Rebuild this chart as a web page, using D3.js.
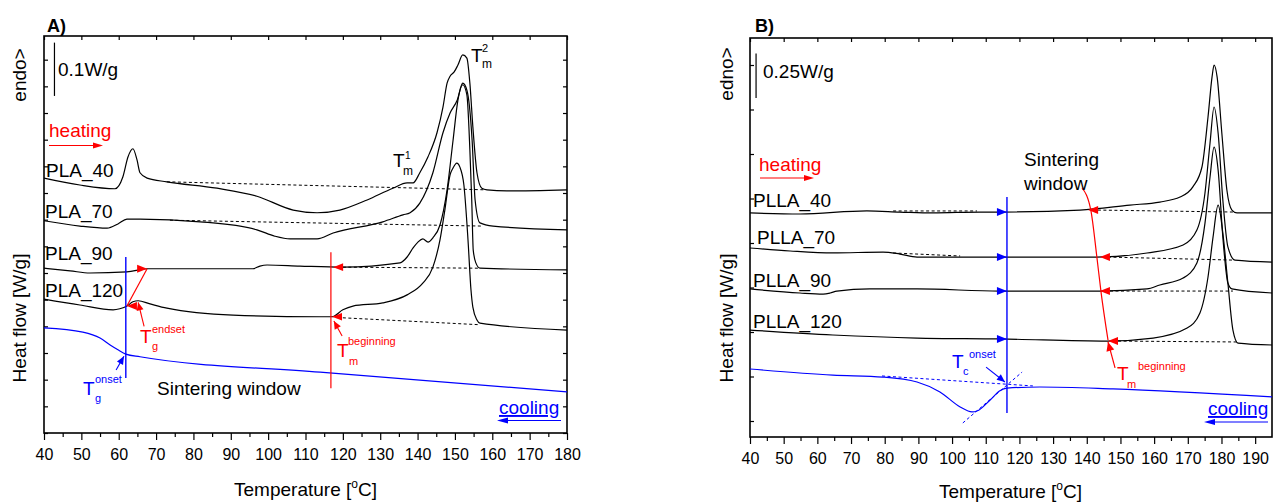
<!DOCTYPE html>
<html><head><meta charset="utf-8">
<script src="https://cdn.jsdelivr.net/npm/d3@7/dist/d3.min.js"></script>
<style>
body{margin:0;background:#fff}
svg{display:block}
text{font-family:"Liberation Sans",Arial,Helvetica,sans-serif}
</style>
</head><body>
<svg id="c" width="1273" height="502"></svg>
<script>
// ================= DATA (temperature °C, heat flow W/g with vertical offsets) =================
// ---- Panel A ----
const tempMajorA = [40,50,60,70,80,90,100,110,120,130,140,150,160,170,180];
const tempMinorA = [45,55,65,75,85,95,105,115,125,135,145,155,165,175];
const flowTicksA = [0,0.05,0.1,0.15,0.2,0.25,0.3,0.35,0.4,0.45,0.5,0.55,0.6,0.65,0.7];
const namesA = ["PLA_40","PLA_70","PLA_90","PLA_120"];
const pla40 = [[40,0.478],[49.6,0.465],[59.0,0.458],[61.1,0.480],[62.5,0.518],[63.8,0.533],[64.9,0.512],[65.7,0.488],[67.6,0.478],[72.9,0.471],[86.3,0.459],[97.0,0.444],[106.7,0.418],[113.1,0.413],[119.2,0.418],[126.5,0.437],[133.4,0.459],[137.2,0.469],[138.8,0.469],[140.6,0.488],[142.8,0.518],[145.2,0.563],[146.8,0.611],[147.9,0.656],[148.7,0.669],[149.8,0.677],[150.8,0.690],[152.1,0.709],[153.2,0.703],[154.0,0.656],[154.8,0.574],[155.9,0.488],[157.2,0.459],[158.6,0.456],[163.9,0.454],[180,0.456]];
const pla70 = [[40,0.398],[49.6,0.388],[56.9,0.384],[59.8,0.392],[62.2,0.401],[65.7,0.401],[81.8,0.396],[97.0,0.381],[101.8,0.369],[105.9,0.364],[113.1,0.364],[117.4,0.375],[130.7,0.396],[136.1,0.409],[138.0,0.413],[140.6,0.431],[144.1,0.488],[146.8,0.563],[148.7,0.600],[150.6,0.624],[152.1,0.656],[153.2,0.643],[154.6,0.549],[155.4,0.437],[156.7,0.394],[160.2,0.388],[180,0.381]];
const pla90 = [[40,0.309],[47.0,0.304],[52.3,0.300],[62.2,0.302],[67.6,0.308],[81.8,0.308],[95.9,0.308],[97.8,0.313],[99.7,0.315],[108.5,0.313],[120.0,0.311],[135.3,0.319],[137.2,0.330],[138.8,0.347],[140.1,0.358],[141.4,0.364],[142.8,0.358],[144.1,0.366],[146.0,0.390],[147.9,0.456],[149.5,0.549],[150.8,0.624],[152.1,0.653],[153.2,0.634],[154.0,0.531],[154.5,0.437],[154.9,0.343],[155.6,0.319],[156.7,0.309],[180,0.306]];
const pla120 = [[40,0.251],[49.6,0.240],[58.5,0.231],[60.3,0.233],[62.2,0.238],[63.8,0.246],[65.2,0.248],[68.4,0.242],[72.9,0.234],[90.6,0.221],[113.9,0.218],[117.1,0.218],[120.0,0.231],[122.7,0.238],[130.7,0.244],[137.2,0.259],[141.4,0.281],[144.1,0.311],[146.0,0.362],[147.3,0.418],[148.7,0.484],[149.5,0.497],[150.5,0.506],[151.3,0.499],[152.4,0.465],[153.5,0.362],[154.3,0.268],[154.8,0.236],[155.9,0.212],[156.7,0.206],[180,0.193]];
const coolA = [[40,0.197],[50.4,0.189],[55.0,0.178],[57.7,0.165],[59.8,0.156],[61.9,0.148],[65.7,0.143],[113.9,0.114],[180,0.077]];
const baseA = [
  [[72.9,0.471],[158.0,0.456]],
  [[73.7,0.399],[157.2,0.388]],
  [[120.0,0.311],[156.7,0.309]],
  [[120.0,0.216],[156.7,0.203]]
];
const tgOnsetLineA = [[61.9,0.330],[61.9,0.103]];
const tmBeginLineA = [[116.8,0.339],[116.8,0.084]];
const tgEndsetArrowA = [[62.2,0.238],[67.6,0.308]];
const tgEndsetPointerA = [[66.8,0.200],[65.2,0.245]];
const tgOnsetPointerA = [[59.3,0.118],[61.4,0.144]];
const tmBeginTipsA = [[117.4,0.311],[117.1,0.218]];
const tmBeginPointerA = [[119.8,0.182],[117.6,0.210]];
const scaleBarA = [[42.8,0.632],[42.8,0.732]];

// ---- Panel B ----
const tempMajorB = [40,50,60,70,80,90,100,110,120,130,140,150,160,170,180,190];
const tempMinorB = [45,55,65,75,85,95,105,115,125,135,145,155,165,175,185];
const flowTicksB = [0,0.25,0.5,0.75,1.0,1.25,1.5,1.75,2.0];
const namesB = ["PLLA_40","PLLA_70","PLLA_90","PLLA_120"];
const plla40 = [[40,1.169],[54.8,1.163],[74.7,1.180],[84.5,1.174],[94.3,1.169],[108.3,1.174],[114.2,1.174],[138.0,1.185],[152.8,1.213],[161.7,1.230],[167.7,1.258],[171.5,1.315],[174.2,1.427],[176.0,1.708],[177.2,1.933],[177.8,2.000],[178.7,1.933],[180.1,1.618],[181.6,1.298],[183.1,1.185],[184.6,1.169],[195,1.169]];
const plla70 = [[40,0.972],[51.9,0.955],[64.6,0.944],[79.5,0.949],[84.5,0.938],[89.6,0.921],[102.4,0.921],[114.2,0.921],[143.0,0.921],[157.9,0.944],[168.6,0.989],[172.7,1.073],[175.1,1.281],[176.6,1.562],[177.8,1.764],[179.0,1.618],[180.4,1.242],[181.9,0.978],[184.0,0.904],[195,0.893]];
const plla90 = [[40,0.742],[54.8,0.719],[61.7,0.713],[63.8,0.719],[65.8,0.730],[75.6,0.742],[89.6,0.742],[114.2,0.730],[143.9,0.730],[157.9,0.742],[161.7,0.764],[168.6,0.803],[172.7,0.888],[175.1,1.112],[176.6,1.371],[177.8,1.539],[179.0,1.410],[180.4,1.034],[181.9,0.775],[183.1,0.742],[195,0.719]];
const plla120 = [[40,0.511],[64.6,0.483],[89.6,0.466],[114.2,0.461],[146.0,0.449],[159.7,0.466],[169.8,0.522],[173.6,0.607],[176.0,0.809],[177.5,1.034],[179.0,1.213],[180.4,1.056],[181.9,0.775],[183.4,0.511],[184.9,0.438],[195,0.427]];
const coolB = [[40,0.292],[64.6,0.258],[79.5,0.247],[89.6,0.219],[96.4,0.163],[102.4,0.079],[105.9,0.051],[107.4,0.056],[111.3,0.118],[114.2,0.170],[116.3,0.185],[126.1,0.191],[147.8,0.180],[195,0.135]];
const baseB = [
  [[82.5,1.180],[107.4,1.180]], [[143.3,1.185],[183.4,1.174]],
  [[82.5,0.944],[102.4,0.927]], [[146.3,0.921],[183.4,0.904]],
  [[146.9,0.730],[183.4,0.730]],
  [[149.3,0.449],[184.6,0.444]]
];
const tcBaseExtB = [[79.2,0.253],[124.0,0.197]];
const tcTangentB = [[103.2,-0.011],[120.8,0.275]];
const tcOnsetLineB = [[116.3,1.258],[116.3,0.045]];
const tcTipsB = [[116.3,1.174],[116.3,0.921],[116.3,0.730],[116.3,0.461]];
const tmBeginLineB = [[138.6,1.309],[141.2,1.185],[143.0,0.921],[144.2,0.730],[146.3,0.455]];
const tmBeginTipsB = [[140.4,1.185],[143.9,0.921],[143.9,0.730],[146.3,0.449]];
const tmBeginPointerB = [[148.4,0.298],[146.3,0.444]];
const tcOnsetPointerB = [[110.1,0.303],[115.7,0.219]];
const scaleBarB = [[41.8,1.815],[41.8,2.065]];

// ================= LAYOUT =================
const RED = "#ff0000", BLUE = "#0000ff";
const svg = d3.select("#c");
const xA = d3.scaleLinear().domain([40,180]).range([44,567]);
const yA = d3.scaleLinear().domain([0,0.7444]).range([433,36]);
const xB = d3.scaleLinear().domain([40,195]).range([750,1272]);
const yB = d3.scaleLinear().domain([-0.0899,2.1517]).range([437,38]);

function drawAxes(x, y, major, minor, yt, rightTicks){
  const g = svg.append("g");
  const [x0,x1] = x.range(), [yb,yt0] = y.range();
  const style = s => { s.select(".domain").remove(); s.selectAll(".tick line").attr("stroke","#000").attr("stroke-width",1.2); };
  g.append("g").attr("transform",`translate(0,${yb})`)
    .call(d3.axisBottom(x).tickValues(minor).tickSize(4).tickSizeOuter(0).tickFormat("")).call(style);
  const ax = g.append("g").attr("transform",`translate(0,${yb})`)
    .call(d3.axisBottom(x).tickValues(major).tickSize(7).tickPadding(8.5).tickSizeOuter(0).tickFormat(d3.format("d"))).call(style);
  ax.attr("font-family",null).attr("font-size",null);
  ax.selectAll(".tick text").attr("font-size",16).attr("fill","#000");
  g.append("g").attr("transform",`translate(0,${yt0})`)
    .call(d3.axisTop(x).tickValues(major).tickSize(-4).tickSizeOuter(0).tickFormat("")).call(style);
  g.append("g").attr("transform",`translate(${x0},0)`)
    .call(d3.axisLeft(y).tickValues(yt).tickSize(-4).tickSizeOuter(0).tickFormat("")).call(style);
  if(rightTicks) g.append("g").attr("transform",`translate(${x1},0)`)
    .call(d3.axisRight(y).tickValues(yt).tickSize(-4).tickSizeOuter(0).tickFormat("")).call(style);
  g.append("rect").attr("x",x0).attr("y",yt0).attr("width",x1-x0).attr("height",yb-yt0)
    .attr("fill","none").attr("stroke","#000").attr("stroke-width",1.6);
}

function curve(x,y,data,color,w,dash,smooth){
  const ln = d3.line().x(d=>x(d[0])).y(d=>y(d[1])).curve(smooth?d3.curveMonotoneX:d3.curveLinear);
  const p = svg.append("path").attr("d",ln(data)).attr("fill","none").attr("stroke",color).attr("stroke-width",w)
    .attr("stroke-linejoin","round");
  if(dash) p.attr("stroke-dasharray",dash);
  return p;
}
function head(px,py,angle,len,hw,color){
  svg.append("path").attr("d",`M0,0L${-len},${-hw}L${-len},${hw}Z`).attr("fill",color)
    .attr("transform",`translate(${px},${py}) rotate(${angle})`);
}
function pointer(x,y,pts,color,len,hw,w){
  curve(x,y,pts,color,w||1.1,null,false);
  const [a,b] = pts; const ax=x(a[0]),ay=y(a[1]),bx=x(b[0]),by=y(b[1]);
  head(bx,by,Math.atan2(by-ay,bx-ax)*180/Math.PI,len,hw,color);
}
function txt(x,y,s,opt){
  opt = opt||{};
  const t = svg.append("text").attr("x",x).attr("y",y).attr("font-size",opt.size||19)
    .attr("fill",opt.color||"#000").text(s);
  if(opt.weight) t.attr("font-weight",opt.weight);
  if(opt.anchor) t.attr("text-anchor",opt.anchor);
  if(opt.underline) t.attr("text-decoration","underline");
  return t;
}
function rtxt(x,y,s){
  svg.append("text").attr("transform",`translate(${x},${y}) rotate(-90)`).attr("text-anchor","middle")
    .attr("font-size",19).attr("fill","#000").text(s);
}
function tLabel(x,y,sup,sub,color,o){
  txt(x,y,"T",{color:color,size:19});
  txt(x+o.supDx,y+o.supDy,sup,{color:color,size:o.supSize||11});
  txt(x+o.subDx,y+o.subDy,sub,{color:color,size:o.subSize||11});
}
function xTitle(cx,y){
  const t = svg.append("text").attr("x",cx).attr("y",y).attr("text-anchor","middle").attr("font-size",19).attr("fill","#000");
  t.append("tspan").text("Temperature [");
  t.append("tspan").attr("font-size",12).attr("dy",-8).text("o");
  t.append("tspan").attr("dy",8).text("C]");
}

// ================= PANEL A =================
drawAxes(xA,yA,tempMajorA,tempMinorA,flowTicksA,true);
baseA.forEach(b=>curve(xA,yA,b,"#000",1,"3,2.5",false));
[pla40,pla70,pla90,pla120].forEach(d=>curve(xA,yA,d,"#000",1.2,null,true));
curve(xA,yA,coolA,BLUE,1.2,null,true);
curve(xA,yA,tgOnsetLineA,BLUE,1.4,null,false);
curve(xA,yA,tmBeginLineA,RED,1.2,null,false);
curve(xA,yA,scaleBarA,"#000",1.2,null,false);
// Tg endset double arrow
curve(xA,yA,tgEndsetArrowA,RED,1.2,null,false);
head(xA(tgEndsetArrowA[1][0]),yA(tgEndsetArrowA[1][1]),0,10,4,RED);
head(xA(tgEndsetArrowA[0][0]),yA(tgEndsetArrowA[0][1]),180,10,4,RED);
pointer(xA,yA,tgEndsetPointerA,RED,8,3.5);
pointer(xA,yA,tgOnsetPointerA,BLUE,8,3.5);
tmBeginTipsA.forEach(p=>head(xA(p[0]),yA(p[1]),180,10,3.8,RED));
pointer(xA,yA,tmBeginPointerA,RED,8,3.5);

txt(47,32,"A)",{weight:"bold",size:18});
rtxt(26,75,"endo>");
rtxt(26,318,"Heat flow [W/g]");
txt(58,76,"0.1W/g");
txt(49,137,"heating",{color:RED});
svg.append("line").attr("x1",49).attr("x2",95).attr("y1",145.5).attr("y2",145.5).attr("stroke",RED).attr("stroke-width",1.2);
head(103,145.5,0,10,3,RED);
const labPosA = [[46,177],[45,218],[45,260],[45,297]];
namesA.forEach((n,i)=>txt(labPosA[i][0],labPosA[i][1],n));
txt(157,395,"Sintering window");
txt(499,414,"cooling",{color:BLUE,underline:true});
svg.append("line").attr("x1",507).attr("x2",561).attr("y1",420.5).attr("y2",420.5).attr("stroke",BLUE).attr("stroke-width",1.2);
head(497,420.5,180,11,3,BLUE);
tLabel(140,343,"endset","g",RED,{supDx:12,supDy:-10,subDx:12,subDy:7});
tLabel(83,395,"onset","g",BLUE,{supDx:12,supDy:-12,subDx:12,subDy:7});
tLabel(337,357,"beginning","m",RED,{supDx:11,supDy:-12,subDx:12,subDy:8});
tLabel(393,167,"1","m","#000",{supDx:12,supDy:-8,subDx:10,subDy:8,supSize:10,subSize:12});
tLabel(471,62,"2","m","#000",{supDx:11,supDy:-10,subDx:11,subDy:6,supSize:11,subSize:12});
xTitle(305.5,496);

// ================= PANEL B =================
drawAxes(xB,yB,tempMajorB,tempMinorB,flowTicksB,false);
baseB.forEach(b=>curve(xB,yB,b,"#000",1,"3,2.5",false));
[plla40,plla70,plla90,plla120].forEach(d=>curve(xB,yB,d,"#000",1.2,null,true));
curve(xB,yB,coolB,BLUE,1.2,null,true);
curve(xB,yB,tcBaseExtB,BLUE,1,"3,2.5",false);
curve(xB,yB,tcTangentB,BLUE,1,"3,2.5",false);
curve(xB,yB,tcOnsetLineB,BLUE,1.4,null,false);
tcTipsB.forEach(p=>head(xB(p[0]),yB(p[1]),0,10,4,BLUE));
curve(xB,yB,tmBeginLineB,RED,1.2,null,true);
tmBeginTipsB.forEach(p=>head(xB(p[0]),yB(p[1]),180,10,4,RED));
pointer(xB,yB,tmBeginPointerB,RED,9,4,1.2);
pointer(xB,yB,tcOnsetPointerB,BLUE,8,3.5);
curve(xB,yB,scaleBarB,"#000",1.2,null,false);

txt(755,32,"B)",{weight:"bold",size:18});
rtxt(733,74,"edno>");
rtxt(733,318,"Heat flow [W/g]");
txt(763,78,"0.25W/g");
txt(759,171,"heating",{color:RED});
svg.append("line").attr("x1",760).attr("x2",806).attr("y1",178).attr("y2",178).attr("stroke",RED).attr("stroke-width",1.2);
head(814,178,0,10,3,RED);
const labPosB = [[753,207],[757,244],[753,287],[753,328]];
namesB.forEach((n,i)=>txt(labPosB[i][0],labPosB[i][1],n));
txt(1024,166,"Sintering");
txt(1024,190,"window");
txt(1208,415,"cooling",{color:BLUE,underline:true});
svg.append("line").attr("x1",1214).attr("x2",1268).attr("y1",422).attr("y2",422).attr("stroke",BLUE).attr("stroke-width",1.2);
head(1204,422,180,11,3,BLUE);
tLabel(952,368,"onset","c",BLUE,{supDx:17,supDy:-10,subDx:11,subDy:7});
tLabel(1117,380,"beginning","m",RED,{supDx:21,supDy:-10,subDx:10,subDy:8});
xTitle(1010.5,498);
</script>
</body></html>
